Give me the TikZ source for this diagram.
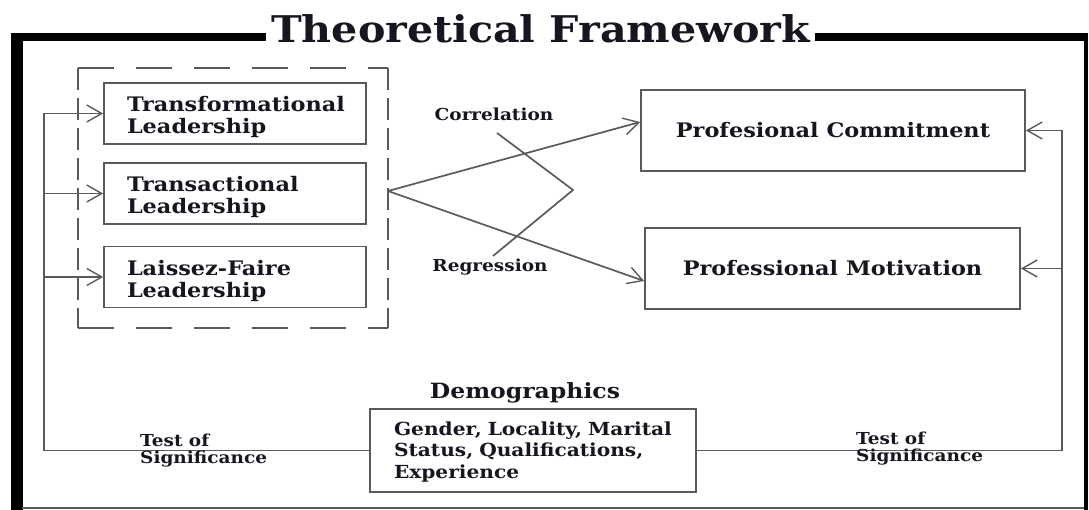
\documentclass[tikz,border=0pt]{standalone}
\usepackage{fontspec}
\setmainfont{DejaVu Serif}[FakeStretch=1.12]
\usetikzlibrary{arrows.meta,calc}
\definecolor{lgray}{RGB}{90,90,90}
\definecolor{ink}{RGB}{22,22,32}
\begin{document}
\begin{tikzpicture}[x=1pt,y=-1pt,
  ln/.style={draw=lgray, line width=1.7pt},
  arr/.style={-{Straight Barb[length=15pt,width=17pt,line width=1.4pt]}},
  box/.style={ln, fill=white, rectangle, inner sep=0pt, text=ink},
  lbox/.style={box, minimum width=262pt, minimum height=61pt, text width=216pt, align=left, inner xsep=23pt, font=\bfseries\fontsize{20}{22}\selectfont},
  obox/.style={box, minimum height=81pt, font=\bfseries\fontsize{20}{22}\selectfont},
  lbl/.style={text=ink, inner sep=0pt, font=\bfseries\fontsize{16.5}{17}\selectfont}
]
\useasboundingbox (0,0) rectangle (1089,510);
% outer frame
\draw[line width=8pt] (10.5,37.5) -- (1087.5,37.5);
\draw[line width=12pt] (16.5,33.5) -- (16.5,510);
\draw[line width=4pt] (1085.5,33.5) -- (1085.5,510);
\draw[line width=2pt, draw=lgray] (22,508) -- (1083.5,508);
\node[fill=white, inner xsep=5pt, inner ysep=3pt, anchor=base west, text=ink,
  font=\bfseries\fontsize{36.8}{40}\selectfont] (title) at (266,43) {Theoretical Framework};
% dashed group
\coordinate (gnw) at (78,68);
\coordinate (gne) at (388,68);
\coordinate (gse) at (388,328);
\coordinate (gsw) at (78,328);
\draw[ln, dash pattern=on 36pt off 22pt] (gnw) -- (gne);
\draw[ln, dash pattern=on 36pt off 22pt] (gsw) -- (gse);
\draw[ln, dash pattern=on 22pt off 8pt] (gnw) -- (gsw);
\draw[ln, dash pattern=on 22pt off 8pt] (gne) -- (gse);
% leadership boxes
\node[lbox] (tfl) at (235,113.5) {\rule{0pt}{23pt}Transformational\\Leadership};
\node[lbox] (tsl) at (235,193.5) {\rule{0pt}{23pt}Transactional\\Leadership};
\node[lbox] (lfl) at (235,277) {\rule{0pt}{23pt}Laissez-Faire\\Leadership};
% outcome boxes
\node[obox, minimum width=384pt] (pc) at (833,130.5) {Profesional Commitment};
\node[obox, minimum width=375pt] (pm) at (832.5,268.5) {Professional Motivation};
% demographics
\node[box, minimum width=326pt, minimum height=83pt, text width=278pt, inner xsep=24pt, align=left,
  font=\bfseries\fontsize{18}{21.5}\selectfont] (demo) at (533,450.5)
  {\rule{0pt}{16pt}Gender, Locality, Marital\\Status, Qualifications,\\Experience};
\node[text=ink, inner sep=0pt, anchor=base, font=\bfseries\fontsize{21}{22}\selectfont] (demt) at (525,398) {Demographics};
% correlation / regression
\coordinate (src) at (388,191);
\draw[ln, arr] (src) -- ($(pc.west)+(0,-8.5)$);
\draw[ln, arr] (src) -- ($(pm.west)+(0,12.5)$);
\coordinate (b1) at (497,133);
\coordinate (b2) at (573,190);
\coordinate (b3) at (493,256);
\draw[ln] (b1) -- (b2) -- (b3);
\node[lbl, anchor=base] (corr) at (494,121) {Correlation};
\node[lbl, anchor=base] (regr) at (490,272) {Regression};
% left feedback
\coordinate (cl) at (44,450.5);
\draw[ln, arr] (demo.west) -- (cl) |- (tfl.west);
\draw[ln, arr] (tsl.west -| cl) -- (tsl.west);
\draw[ln, arr] (lfl.west -| cl) -- (lfl.west);
% right feedback
\coordinate (cr) at (1062,450.5);
\draw[ln, arr] (demo.east) -- (cr) |- (pc.east);
\draw[ln, arr] (pm.east -| cr) -- (pm.east);
% test of significance labels
\node[lbl, fill=white, anchor=base west, inner xsep=3pt, inner ysep=4pt] (t1) at (137,446) {Test of};
\node[lbl, anchor=base west, inner xsep=3pt] (s1) at (137,463) {Significance};
\node[lbl, fill=white, anchor=base west, inner xsep=3pt, inner ysep=4pt] (t2) at (853,444) {Test of};
\node[lbl, anchor=base west, inner xsep=3pt] (s2) at (853,461) {Significance};
\end{tikzpicture}
\end{document}
